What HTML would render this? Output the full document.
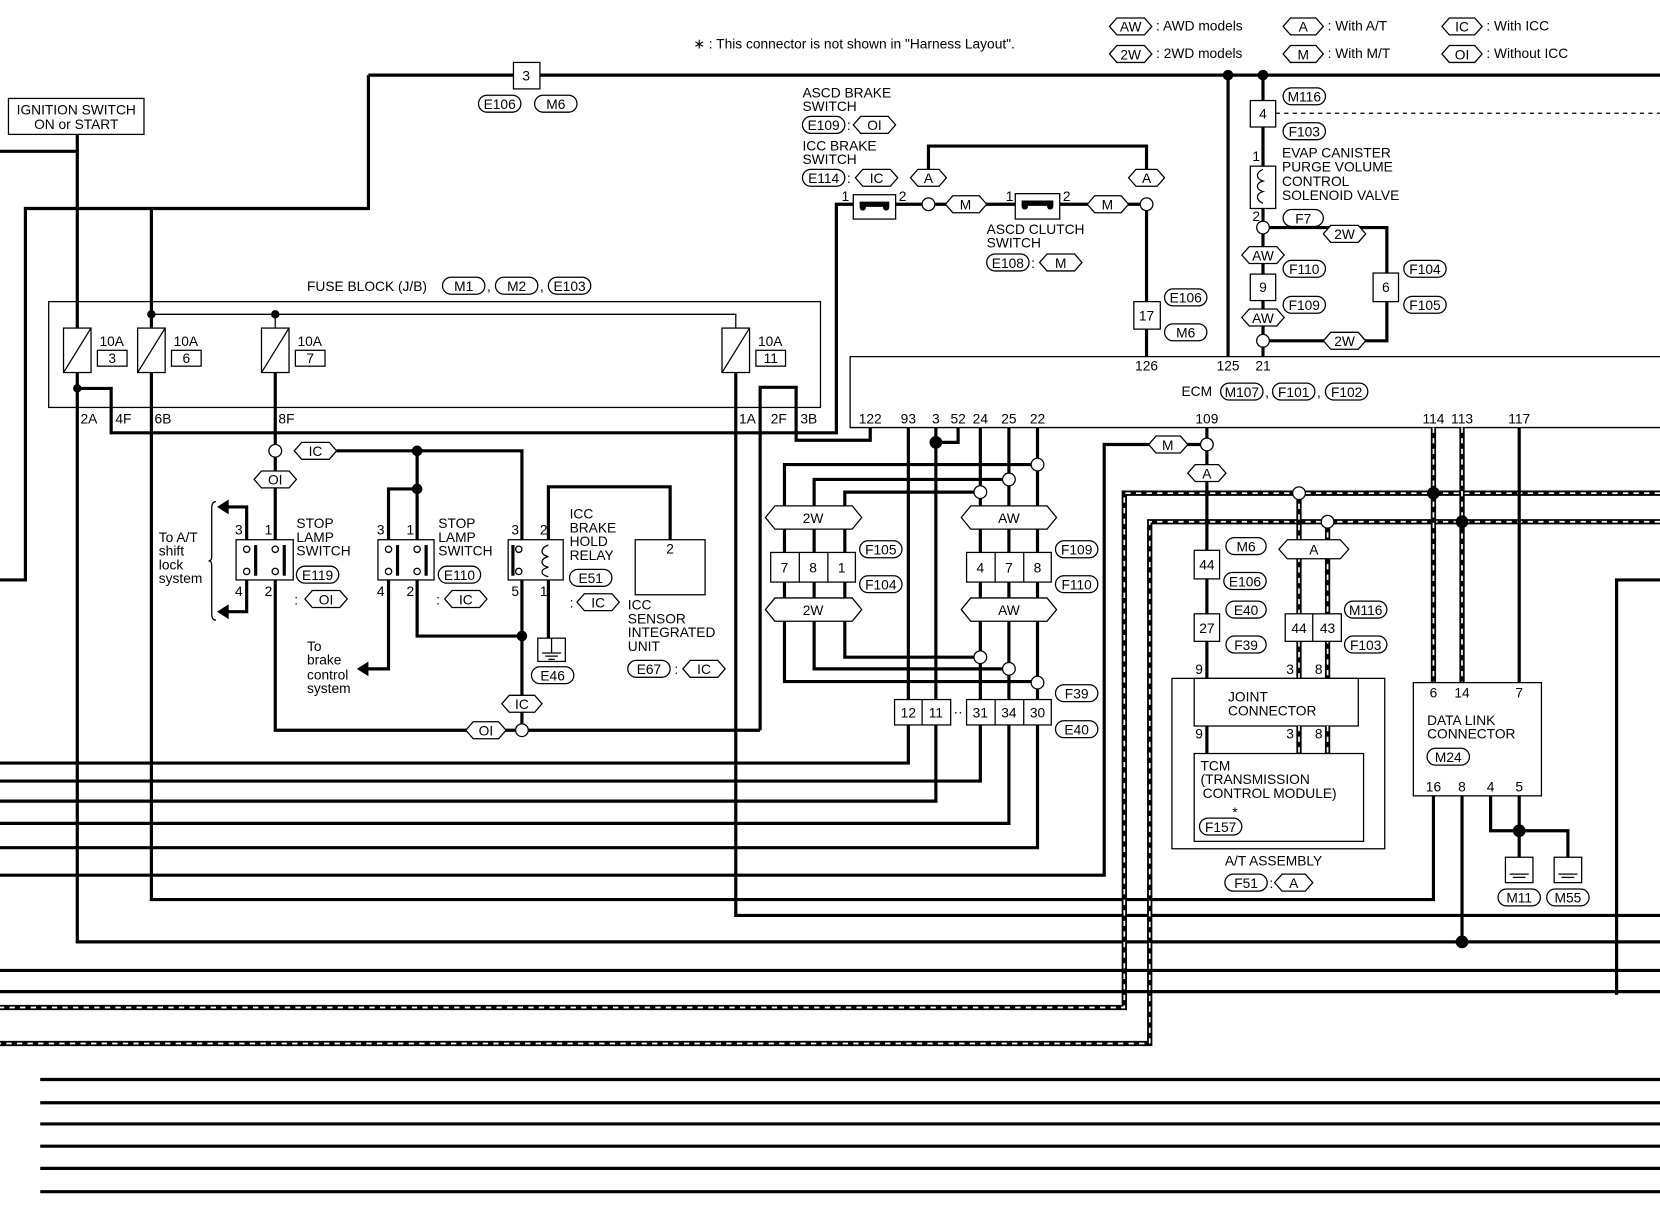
<!DOCTYPE html>
<html><head><meta charset="utf-8"><style>
html,body{margin:0;padding:0;background:#fff}
svg{display:block}
text{font-family:"Liberation Sans",sans-serif;font-size:13px;fill:#000}
.w{stroke:#000;stroke-width:3;fill:none}
.t{stroke:#000;stroke-width:1.2;fill:none}
.b{stroke:#000;stroke-width:1.2;fill:#fff}
.d1{stroke:#000;stroke-width:5;fill:none}
.d2{stroke:#fff;stroke-width:1.6;fill:none;stroke-dasharray:5 5}
.c{text-anchor:middle}
</style></head><body>
<svg width="1660" height="1216" viewBox="0 0 1568 1149" preserveAspectRatio="none" xmlns="http://www.w3.org/2000/svg">
<!-- legend -->
<text x="655" y="46" font-size="12">∗ : This connector is not shown in "Harness Layout".</text>
<polygon class="b" points="1048,25 1055,17 1081,17 1088,25 1081,33 1055,33"/><text x="1068" y="30" class="c">AW</text><text x="1092" y="29">: AWD models</text>
<polygon class="b" points="1048,51 1055,43 1081,43 1088,51 1081,59 1055,59"/><text x="1068" y="56" class="c">2W</text><text x="1092" y="55">: 2WD models</text>
<polygon class="b" points="1212,25 1219,17 1243,17 1250,25 1243,33 1219,33"/><text x="1231" y="30" class="c">A</text><text x="1254" y="29">: With A/T</text>
<polygon class="b" points="1212,51 1219,43 1243,43 1250,51 1243,59 1219,59"/><text x="1231" y="56" class="c">M</text><text x="1254" y="55">: With M/T</text>
<polygon class="b" points="1362,25 1369,17 1393,17 1400,25 1393,33 1369,33"/><text x="1381" y="30" class="c">IC</text><text x="1404" y="29">: With ICC</text>
<polygon class="b" points="1362,51 1369,43 1393,43 1400,51 1393,59 1369,59"/><text x="1381" y="56" class="c">OI</text><text x="1404" y="55">: Without ICC</text>

<!-- top feed -->
<path class="w" d="M348,71 H1568 M348,71 V197 H24 V548 H0 M73,127 V890 H1568 M0,143 H73"/>
<rect class="b" x="485" y="59" width="25" height="25"/><text x="497" y="76" class="c">3</text>
<rect class="b" x="452" y="90" width="40" height="16" rx="8"/><text x="472" y="103" class="c">E106</text>
<rect class="b" x="505" y="90" width="40" height="16" rx="8"/><text x="525" y="103" class="c">M6</text>
<rect class="b" x="8" y="93" width="128" height="34"/>
<text x="72" y="108" class="c">IGNITION SWITCH</text><text x="72" y="122" class="c">ON or START</text>

<!-- fuse block -->
<text x="290" y="275">FUSE BLOCK (J/B)</text>
<rect class="b" x="418" y="262" width="40" height="16" rx="8"/><text x="438" y="275" class="c">M1</text><text x="460" y="275">,</text>
<rect class="b" x="468" y="262" width="40" height="16" rx="8"/><text x="488" y="275" class="c">M2</text><text x="510" y="275">,</text>
<rect class="b" x="518" y="262" width="40" height="16" rx="8"/><text x="538" y="275" class="c">E103</text>
<rect class="t" x="46" y="285" width="729" height="100"/>
<path class="w" d="M143,197 V850 H1354 V752"/>
<path class="t" d="M143,297 H695 V312 M260,297 V312"/>
<circle cx="143" cy="297" r="4"/><circle cx="260" cy="297" r="4"/>
<g class="b">
<rect x="60" y="310" width="26" height="42"/><rect x="130" y="310" width="26" height="42"/>
<rect x="247" y="310" width="26" height="42"/><rect x="682" y="310" width="26" height="42"/>
</g>
<path class="t" d="M60,352 L86,310 M130,352 L156,310 M247,352 L273,310 M682,352 L708,310"/>
<text x="94" y="327">10A</text><rect class="b" x="92" y="331" width="28" height="15"/><text x="106" y="343" class="c">3</text>
<text x="164" y="327">10A</text><rect class="b" x="162" y="331" width="28" height="15"/><text x="176" y="343" class="c">6</text>
<text x="281" y="327">10A</text><rect class="b" x="279" y="331" width="28" height="15"/><text x="293" y="343" class="c">7</text>
<text x="716" y="327">10A</text><rect class="b" x="714" y="331" width="28" height="15"/><text x="728" y="343" class="c">11</text>
<circle cx="73" cy="367" r="4"/>
<path class="w" d="M73,367 H105 V409 H790 V193 H808"/>
<text x="76" y="400">2A</text><text x="109" y="400">4F</text><text x="146" y="400">6B</text><text x="263" y="400">8F</text>
<text x="698" y="400">1A</text><text x="728" y="400">2F</text><text x="756" y="400">3B</text>
<path class="w" d="M695,352 V865 H1568"/>
<path class="w" d="M718,690 V366 H752 V416 H822 V404"/>

<!-- stop lamp E119 -->
<path class="w" d="M260,352 V510 M318,426 H493 V510 M260,548 V690 H718 M493,548 V690"/>
<circle class="b" cx="260" cy="426" r="6"/>
<polygon class="b" points="278,426 285,418 311,418 318,426 311,434 285,434"/><text x="298" y="431" class="c">IC</text>
<polygon class="b" points="240,453 247,445 273,445 280,453 273,461 247,461"/><text x="260" y="458" class="c">OI</text>
<rect class="b" x="223" y="510" width="54" height="38"/>
<circle class="b" cx="233" cy="519" r="3"/><circle class="b" cx="233" cy="540" r="3"/><rect x="240" y="515" width="3" height="29"/>
<circle class="b" cx="260" cy="519" r="3"/><circle class="b" cx="260" cy="540" r="3"/><rect x="267" y="515" width="3" height="29"/>
<text x="222" y="505">3</text><text x="250" y="505">1</text><text x="222" y="563">4</text><text x="250" y="563">2</text>
<path class="w" d="M233,510 V479 H214 M233,548 V578 H214"/>
<polygon points="205,479 216,472 216,486"/><polygon points="205,578 216,571 216,585"/>
<path class="t" d="M204,474 Q200,474 200,480 V526 Q200,530 197,530 Q200,530 200,534 V580 Q200,586 204,586"/>
<text x="150" y="512">To A/T</text><text x="150" y="525">shift</text><text x="150" y="538">lock</text><text x="150" y="551">system</text>
<text x="280" y="499">STOP</text><text x="280" y="512">LAMP</text><text x="280" y="525">SWITCH</text>
<rect class="b" x="280" y="535" width="40" height="16" rx="8"/><text x="300" y="548" class="c">E119</text>
<text x="278" y="571">:</text><polygon class="b" points="288,566 295,558 321,558 328,566 321,574 295,574"/><text x="308" y="571" class="c">OI</text>
<polygon class="b" points="440,690 447,682 471,682 478,690 471,698 447,698"/><text x="459" y="695" class="c">OI</text>
<circle class="b" cx="493" cy="690" r="6"/>

<!-- stop lamp E110 -->
<path class="w" d="M394,426 V510 M394,462 H367 V510 M367,548 V632 H346 M394,548 V601 H493"/>
<polygon points="337,632 348,625 348,639"/>
<circle cx="394" cy="426" r="5"/><circle cx="394" cy="462" r="5"/><circle cx="493" cy="601" r="5"/>
<rect class="b" x="357" y="510" width="53" height="38"/>
<circle class="b" cx="367" cy="519" r="3"/><circle class="b" cx="367" cy="540" r="3"/><rect x="374" y="515" width="3" height="29"/>
<circle class="b" cx="394" cy="519" r="3"/><circle class="b" cx="394" cy="540" r="3"/><rect x="401" y="515" width="3" height="29"/>
<text x="356" y="505">3</text><text x="384" y="505">1</text><text x="356" y="563">4</text><text x="384" y="563">2</text>
<text x="290" y="615">To</text><text x="290" y="628">brake</text><text x="290" y="642">control</text><text x="290" y="655">system</text>
<text x="414" y="499">STOP</text><text x="414" y="512">LAMP</text><text x="414" y="525">SWITCH</text>
<rect class="b" x="414" y="535" width="40" height="16" rx="8"/><text x="434" y="548" class="c">E110</text>
<text x="412" y="571">:</text><polygon class="b" points="420,566 427,558 453,558 460,566 453,574 427,574"/><text x="440" y="571" class="c">IC</text>

<!-- relay E51 & ICC unit -->
<path class="w" d="M518,510 V460 H633 V510 M518,548 V603"/>
<rect class="b" x="480" y="510" width="52" height="38"/>
<circle class="b" cx="490" cy="519" r="3"/><circle class="b" cx="490" cy="540" r="3"/><rect x="483" y="515" width="3" height="29"/>
<path class="t" d="M518,515 C510,518 510,524 518,526 C510,528 510,534 518,536 C510,538 510,543 518,545"/>
<text x="483" y="505">3</text><text x="510" y="505">2</text><text x="483" y="563">5</text><text x="510" y="563">1</text>
<rect class="b" x="508" y="603" width="26" height="22"/>
<path class="t" d="M521,603 V617 M512,617 H530 M515,620 H527 M518,623 H524"/>
<rect class="b" x="502" y="630" width="40" height="16" rx="8"/><text x="522" y="643" class="c">E46</text>
<text x="538" y="490">ICC</text><text x="538" y="503">BRAKE</text><text x="538" y="516">HOLD</text><text x="538" y="529">RELAY</text>
<rect class="b" x="538" y="538" width="40" height="16" rx="8"/><text x="558" y="551" class="c">E51</text>
<text x="538" y="574">:</text><polygon class="b" points="545,569 552,561 578,561 585,569 578,577 552,577"/><text x="565" y="574" class="c">IC</text>
<rect class="b" x="600" y="510" width="66" height="52"/><text x="633" y="523" class="c">2</text>
<text x="593" y="576">ICC</text><text x="593" y="589">SENSOR</text><text x="593" y="602">INTEGRATED</text><text x="593" y="615">UNIT</text>
<rect class="b" x="593" y="624" width="40" height="16" rx="8"/><text x="613" y="637" class="c">E67</text>
<text x="637" y="637">:</text><polygon class="b" points="645,632 652,624 678,624 685,632 678,640 652,640"/><text x="665" y="637" class="c">IC</text>
<polygon class="b" points="474,665 481,657 505,657 512,665 505,673 481,673"/><text x="493" y="670" class="c">IC</text>

<!-- ASCD -->
<text x="758" y="92">ASCD BRAKE</text><text x="758" y="105">SWITCH</text>
<rect class="b" x="758" y="110" width="40" height="16" rx="8"/><text x="778" y="123" class="c">E109</text>
<text x="800" y="123">:</text><polygon class="b" points="806,118 813,110 839,110 846,118 839,126 813,126"/><text x="826" y="123" class="c">OI</text>
<text x="758" y="142">ICC BRAKE</text><text x="758" y="155">SWITCH</text>
<rect class="b" x="758" y="160" width="40" height="16" rx="8"/><text x="778" y="173" class="c">E114</text>
<text x="800" y="173">:</text><polygon class="b" points="808,168 815,160 841,160 848,168 841,176 815,176"/><text x="828" y="173" class="c">IC</text>
<path class="w" d="M877,160 V138 H1083 V160 M846,193 H1083 V337"/>
<rect class="b" x="806" y="184" width="40" height="23"/><path d="M812,193 H840" stroke="#000" stroke-width="5"/><circle cx="815" cy="196" r="3"/><circle cx="837" cy="196" r="3"/>
<text x="795" y="190">1</text><text x="849" y="190">2</text>
<rect class="b" x="959" y="183" width="42" height="24"/><path d="M965,192 H995" stroke="#000" stroke-width="5"/><circle cx="968" cy="195" r="3"/><circle cx="992" cy="195" r="3"/>
<text x="950" y="190">1</text><text x="1004" y="190">2</text>
<polygon class="b" points="860,168 867,160 887,160 894,168 887,176 867,176"/><text x="877" y="173" class="c">A</text>
<polygon class="b" points="1066,168 1073,160 1093,160 1100,168 1093,176 1073,176"/><text x="1083" y="173" class="c">A</text>
<circle class="b" cx="877" cy="193" r="6"/><circle class="b" cx="1083" cy="193" r="6"/>
<polygon class="b" points="893,193 900,185 925,185 932,193 925,201 900,201"/><text x="912" y="198" class="c">M</text>
<polygon class="b" points="1027,193 1034,185 1059,185 1066,193 1059,201 1034,201"/><text x="1046" y="198" class="c">M</text>
<text x="932" y="221">ASCD CLUTCH</text><text x="932" y="234">SWITCH</text>
<rect class="b" x="932" y="240" width="40" height="16" rx="8"/><text x="952" y="253" class="c">E108</text>
<text x="974" y="253">:</text><polygon class="b" points="982,248 989,240 1015,240 1022,248 1015,256 989,256"/><text x="1002" y="253" class="c">M</text>
<rect class="b" x="1071" y="285" width="25" height="26"/><text x="1083" y="303" class="c">17</text>
<rect class="b" x="1100" y="273" width="40" height="16" rx="8"/><text x="1120" y="286" class="c">E106</text>
<rect class="b" x="1100" y="306" width="40" height="16" rx="8"/><text x="1120" y="319" class="c">M6</text>

<!-- EVAP -->
<path class="w" d="M1160,71 V337 M1193,71 V337 M1193,215 H1310 V322 H1193"/>
<circle cx="1160" cy="71" r="5"/><circle cx="1193" cy="71" r="5"/>
<path class="t" d="M1205,107 H1568" stroke-dasharray="4 4"/>
<rect class="b" x="1181" y="95" width="24" height="25"/><text x="1193" y="112" class="c">4</text>
<rect class="b" x="1212" y="83" width="40" height="16" rx="8"/><text x="1232" y="96" class="c">M116</text>
<rect class="b" x="1212" y="116" width="40" height="16" rx="8"/><text x="1232" y="129" class="c">F103</text>
<rect class="b" x="1181" y="157" width="24" height="40"/>
<path class="t" d="M1193,160 C1186,163 1186,169 1193,171 C1186,173 1186,179 1193,181 C1186,183 1186,189 1193,192"/>
<text x="1183" y="152">1</text><text x="1183" y="209">2</text>
<text x="1211" y="149">EVAP CANISTER</text><text x="1211" y="162">PURGE VOLUME</text><text x="1211" y="176">CONTROL</text><text x="1211" y="189">SOLENOID VALVE</text>
<rect class="b" x="1212" y="198" width="38" height="16" rx="8"/><text x="1231" y="211" class="c">F7</text>
<circle class="b" cx="1193" cy="215" r="6"/><circle class="b" cx="1193" cy="322" r="6"/>
<polygon class="b" points="1250,221 1257,213 1283,213 1290,221 1283,229 1257,229"/><text x="1270" y="226" class="c">2W</text>
<polygon class="b" points="1250,322 1257,314 1283,314 1290,322 1283,330 1257,330"/><text x="1270" y="327" class="c">2W</text>
<polygon class="b" points="1173,241 1180,233 1206,233 1213,241 1206,249 1180,249"/><text x="1193" y="246" class="c">AW</text>
<polygon class="b" points="1173,300 1180,292 1206,292 1213,300 1206,308 1180,308"/><text x="1193" y="305" class="c">AW</text>
<rect class="b" x="1181" y="259" width="24" height="25"/><text x="1193" y="276" class="c">9</text>
<rect class="b" x="1297" y="258" width="24" height="27"/><text x="1309" y="276" class="c">6</text>
<rect class="b" x="1212" y="246" width="40" height="16" rx="8"/><text x="1232" y="259" class="c">F110</text>
<rect class="b" x="1212" y="280" width="40" height="16" rx="8"/><text x="1232" y="293" class="c">F109</text>
<rect class="b" x="1326" y="246" width="40" height="16" rx="8"/><text x="1346" y="259" class="c">F104</text>
<rect class="b" x="1326" y="280" width="40" height="16" rx="8"/><text x="1346" y="293" class="c">F105</text>

<!-- ECM -->
<path class="t" d="M1568,337 H803 V404 H1568"/>
<text x="1083" y="350" class="c">126</text><text x="1160" y="350" class="c">125</text><text x="1193" y="350" class="c">21</text>
<text x="1116" y="374">ECM</text>
<rect class="b" x="1153" y="362" width="40" height="16" rx="8"/><text x="1173" y="375" class="c">M107</text><text x="1195" y="375">,</text>
<rect class="b" x="1202" y="362" width="40" height="16" rx="8"/><text x="1222" y="375" class="c">F101</text><text x="1244" y="375">,</text>
<rect class="b" x="1252" y="362" width="40" height="16" rx="8"/><text x="1272" y="375" class="c">F102</text>
<g class="c"><text x="822" y="400">122</text><text x="858" y="400">93</text><text x="884" y="400">3</text><text x="905" y="400">52</text><text x="926" y="400">24</text><text x="953" y="400">25</text><text x="980" y="400">22</text><text x="1140" y="400">109</text><text x="1354" y="400">114</text><text x="1381" y="400">113</text><text x="1435" y="400">117</text></g>

<!-- ECM lower harness -->
<path class="w" d="M858,404 V721 H0 M884,404 V757 H0 M905,404 V418 H884 M926,404 V738 H0 M953,404 V778 H0 M980,404 V801 H0"/>
<circle cx="884" cy="418" r="6"/>
<path class="w" d="M980,439 H741 V644 H980 M953,453 H769 V632 H953 M926,465 H798 V621 H926"/>
<circle class="b" cx="980" cy="439" r="6"/><circle class="b" cx="953" cy="453" r="6"/><circle class="b" cx="926" cy="465" r="6"/>
<circle class="b" cx="926" cy="621" r="6"/><circle class="b" cx="953" cy="632" r="6"/><circle class="b" cx="980" cy="645" r="6"/>
<polygon class="b" points="723,489 732,478 805,478 814,489 805,500 732,500"/><text x="768" y="494" class="c">2W</text>
<polygon class="b" points="723,576 732,565 805,565 814,576 805,587 732,587"/><text x="768" y="581" class="c">2W</text>
<polygon class="b" points="908,489 917,478 989,478 998,489 989,500 917,500"/><text x="953" y="494" class="c">AW</text>
<polygon class="b" points="908,576 917,565 989,565 998,576 989,587 917,587"/><text x="953" y="581" class="c">AW</text>
<rect class="b" x="728" y="522" width="80" height="28"/><path class="t" d="M755,522 V550 M782,522 V550"/>
<text x="741" y="541" class="c">7</text><text x="768" y="541" class="c">8</text><text x="795" y="541" class="c">1</text>
<rect class="b" x="913" y="522" width="80" height="28"/><path class="t" d="M940,522 V550 M967,522 V550"/>
<text x="926" y="541" class="c">4</text><text x="953" y="541" class="c">7</text><text x="980" y="541" class="c">8</text>
<rect class="b" x="812" y="511" width="40" height="16" rx="8"/><text x="832" y="524" class="c">F105</text>
<rect class="b" x="812" y="544" width="40" height="16" rx="8"/><text x="832" y="557" class="c">F104</text>
<rect class="b" x="997" y="511" width="40" height="16" rx="8"/><text x="1017" y="524" class="c">F109</text>
<rect class="b" x="997" y="544" width="40" height="16" rx="8"/><text x="1017" y="557" class="c">F110</text>
<rect class="b" x="845" y="661" width="53" height="24"/><path class="t" d="M871,661 V685"/>
<text x="858" y="678" class="c">12</text><text x="884" y="678" class="c">11</text><text x="905" y="677" class="c">··</text>
<rect class="b" x="913" y="661" width="80" height="24"/><path class="t" d="M940,661 V685 M967,661 V685"/>
<text x="926" y="678" class="c">31</text><text x="953" y="678" class="c">34</text><text x="980" y="678" class="c">30</text>
<rect class="b" x="997" y="647" width="40" height="16" rx="8"/><text x="1017" y="660" class="c">F39</text>
<rect class="b" x="997" y="681" width="40" height="16" rx="8"/><text x="1017" y="694" class="c">E40</text>

<!-- 109 -->
<path class="w" d="M0,827 H1043 V420 H1134 M1140,404 V641"/>
<polygon class="b" points="1085,420 1092,412 1115,412 1122,420 1115,428 1092,428"/><text x="1103" y="425" class="c">M</text>
<circle class="b" cx="1140" cy="420" r="6"/>
<polygon class="b" points="1122,447 1129,439 1151,439 1158,447 1151,455 1129,455"/><text x="1140" y="452" class="c">A</text>

<!-- dashed CAN lines -->
<path class="d1" d="M1568,466 H1062 V952 H0"/><path class="d2" d="M1568,466 H1062 V952 H0"/>
<path class="d1" d="M1568,493 H1086 V986 H0"/><path class="d2" d="M1568,493 H1086 V986 H0"/>
<path class="d1" d="M1227,466 V641 M1254,493 V641 M1354,404 V645 M1381,404 V645"/>
<path class="d2" d="M1227,466 V641 M1254,493 V641 M1354,404 V645 M1381,404 V645"/>
<circle cx="1354" cy="466" r="6"/><circle cx="1381" cy="493" r="6"/>
<circle class="b" cx="1227" cy="466" r="6"/><circle class="b" cx="1254" cy="493" r="6"/>
<path class="w" d="M1435,404 V645"/>
<polygon class="b" points="1208,519 1216,510 1266,510 1274,519 1266,528 1216,528"/><text x="1241" y="524" class="c">A</text>
<rect class="b" x="1128" y="520" width="24" height="27"/><text x="1140" y="538" class="c">44</text>
<rect class="b" x="1128" y="580" width="24" height="26"/><text x="1140" y="598" class="c">27</text>
<rect class="b" x="1158" y="508" width="38" height="16" rx="8"/><text x="1177" y="521" class="c">M6</text>
<rect class="b" x="1156" y="541" width="40" height="16" rx="8"/><text x="1176" y="554" class="c">E106</text>
<rect class="b" x="1158" y="568" width="38" height="16" rx="8"/><text x="1177" y="581" class="c">E40</text>
<rect class="b" x="1158" y="601" width="38" height="16" rx="8"/><text x="1177" y="614" class="c">F39</text>
<rect class="b" x="1214" y="580" width="53" height="26"/><path class="t" d="M1240,580 V606"/>
<text x="1227" y="598" class="c">44</text><text x="1254" y="598" class="c">43</text>
<rect class="b" x="1270" y="568" width="40" height="16" rx="8"/><text x="1290" y="581" class="c">M116</text>
<rect class="b" x="1270" y="601" width="40" height="16" rx="8"/><text x="1290" y="614" class="c">F103</text>

<!-- A/T assembly -->
<rect class="t" x="1107" y="641" width="201" height="161"/>
<rect class="b" x="1128" y="641" width="155" height="45"/>
<path class="w" d="M1140,686 V712"/>
<path class="d1" d="M1227,686 V712 M1254,686 V712"/><path class="d2" d="M1227,686 V712 M1254,686 V712"/>
<rect class="b" x="1128" y="712" width="160" height="83"/>
<text x="1129" y="637">9</text><text x="1215" y="637">3</text><text x="1242" y="637">8</text>
<text x="1129" y="698">9</text><text x="1215" y="698">3</text><text x="1242" y="698">8</text>
<text x="1160" y="663">JOINT</text><text x="1160" y="676">CONNECTOR</text>
<text x="1134" y="728">TCM</text><text x="1134" y="741">(TRANSMISSION</text><text x="1136" y="754">CONTROL MODULE)</text>
<text x="1164" y="772">*</text>
<rect class="b" x="1133" y="773" width="40" height="16" rx="8"/><text x="1153" y="786" class="c">F157</text>
<text x="1157" y="818">A/T ASSEMBLY</text>
<rect class="b" x="1157" y="826" width="40" height="16" rx="8"/><text x="1177" y="839" class="c">F51</text>
<text x="1199" y="839">:</text><polygon class="b" points="1204,834 1211,826 1233,826 1240,834 1233,842 1211,842"/><text x="1222" y="839" class="c">A</text>

<!-- data link -->
<rect class="b" x="1335" y="645" width="121" height="107"/>
<text x="1354" y="659" class="c">6</text><text x="1381" y="659" class="c">14</text><text x="1435" y="659" class="c">7</text>
<text x="1348" y="685">DATA LINK</text><text x="1348" y="698">CONNECTOR</text>
<rect class="b" x="1348" y="707" width="40" height="16" rx="8"/><text x="1368" y="720" class="c">M24</text>
<text x="1354" y="748" class="c">16</text><text x="1381" y="748" class="c">8</text><text x="1408" y="748" class="c">4</text><text x="1435" y="748" class="c">5</text>
<path class="w" d="M1381,752 V890 M1408,752 V785 H1481 V810 M1435,752 V810"/>
<circle cx="1435" cy="785" r="6"/><circle cx="1381" cy="890" r="6"/>
<rect class="b" x="1422" y="810" width="26" height="24"/><path class="t" d="M1426,826 H1444 M1429,829 H1441"/>
<rect class="b" x="1468" y="810" width="26" height="24"/><path class="t" d="M1472,826 H1490 M1475,829 H1487"/>
<rect class="b" x="1415" y="840" width="40" height="16" rx="8"/><text x="1435" y="853" class="c">M11</text>
<rect class="b" x="1461" y="840" width="40" height="16" rx="8"/><text x="1481" y="853" class="c">M55</text>
<path class="w" d="M1568,548 H1527 V940"/>

<!-- bottom lines -->
<path class="w" d="M0,917 H1568 M0,937 H1568 M38,1020 H1568 M38,1042 H1568 M38,1062 H1568 M38,1083 H1568 M38,1104 H1568 M38,1126 H1568"/>
</svg>
</body></html>
